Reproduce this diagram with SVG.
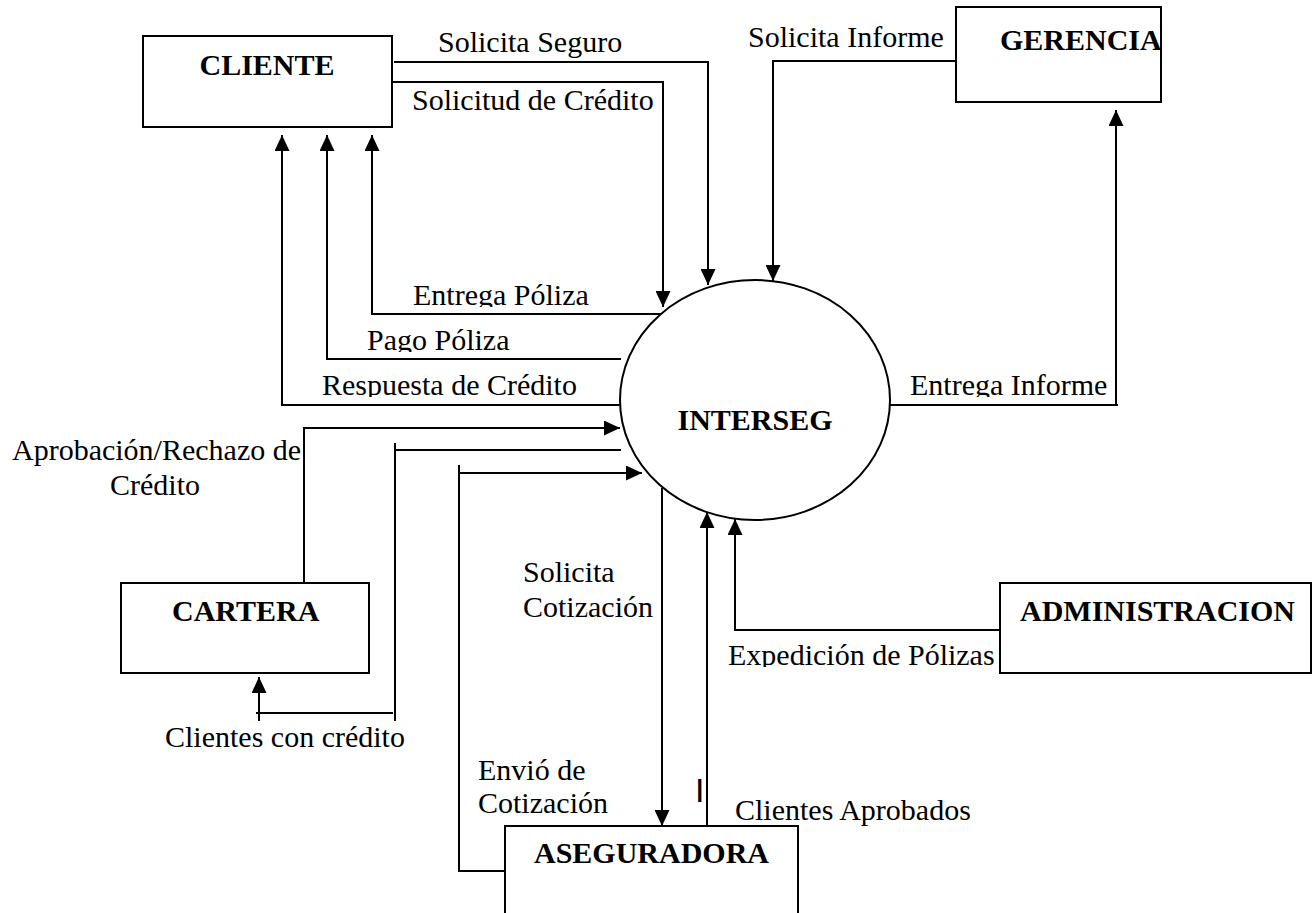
<svg xmlns="http://www.w3.org/2000/svg" width="1313" height="913" viewBox="0 0 1313 913">
<style>
.box{fill:#fff;stroke:#000;stroke-width:2}
.ln{fill:none;stroke:#000;stroke-width:2}
.arr{marker-end:url(#ah)}
.t{font-family:"Liberation Serif","Times New Roman",serif;font-size:30px;fill:#000}
.b{font-family:"Liberation Serif","Times New Roman",serif;font-size:30px;font-weight:bold;fill:#000}
</style>
<defs>
<marker id="ah" markerUnits="userSpaceOnUse" markerWidth="16" markerHeight="15" refX="16" refY="7.5" orient="auto">
<path d="M0,0 L16,7.5 L0,15 z" fill="#000"/>
</marker>
<clipPath id="c305"><rect x="0" y="0" width="1313" height="307"/></clipPath>
<clipPath id="c350"><rect x="0" y="0" width="1313" height="352"/></clipPath>
<clipPath id="c395"><rect x="0" y="0" width="1313" height="397"/></clipPath>
<clipPath id="c665"><rect x="0" y="0" width="1313" height="667"/></clipPath>
</defs>
<rect width="1313" height="913" fill="#fff"/>

<g id="connectors">
<path class="ln arr" d="M394,62 H708 V285"/>
<path class="ln arr" d="M392,82 H663 V307"/>
<path class="ln arr" d="M959,61 H773 V281"/>
<path class="ln arr" d="M666,314 H372 V135"/>
<path class="ln arr" d="M621,359 H327 V135"/>
<path class="ln arr" d="M620,405 H282 V135"/>
<path class="ln" d="M890,405 H1118"/>
<path class="ln arr" d="M1116,405 V110"/>
<path class="ln arr" d="M304,583 V428 H620"/>
<path class="ln" d="M621,450 H395"/>
<path class="ln" d="M395,443 V721"/>
<path class="ln" d="M393,713 H256"/>
<path class="ln arr" d="M259,721 V677"/>
<path class="ln arr" d="M505,871 H459 V473 H642"/>
<path class="ln" d="M459,465 V473"/>
<path class="ln arr" d="M662,488 V826"/>
<path class="ln arr" d="M707,826 V512"/>
<path class="ln arr" d="M1000,630 H735 V519"/>
</g>

<g id="CLIENTE">
<rect class="box" x="143" y="36" width="249" height="91"/>
<text class="b" x="267" y="75" text-anchor="middle">CLIENTE</text>
</g>
<g id="GERENCIA">
<rect class="box" x="956" y="7" width="205" height="95"/>
<text class="b" x="1000" y="50">GERENCIA</text>
</g>
<g id="INTERSEG">
<ellipse class="box" cx="755" cy="400" rx="135" ry="120"/>
<text class="b" x="755" y="430" text-anchor="middle">INTERSEG</text>
</g>
<g id="CARTERA">
<rect class="box" x="121" y="583" width="248" height="90"/>
<text class="b" x="172" y="621">CARTERA</text>
</g>
<g id="ADMINISTRACION">
<rect class="box" x="1000" y="583" width="311" height="90"/>
<text class="b" x="1020" y="621">ADMINISTRACION</text>
</g>
<g id="ASEGURADORA">
<rect class="box" x="505" y="826" width="293" height="100"/>
<text class="b" x="534" y="863">ASEGURADORA</text>
</g>

<g id="labels">
<text class="t" x="438" y="52">Solicita Seguro</text>
<text class="t" x="412" y="110">Solicitud de Crédito</text>
<text class="t" x="748" y="47">Solicita Informe</text>
<text class="t" x="413" y="305" clip-path="url(#c305)">Entrega Póliza</text>
<text class="t" x="367" y="350" clip-path="url(#c350)">Pago Póliza</text>
<text class="t" x="322" y="395" clip-path="url(#c395)">Respuesta de Crédito</text>
<text class="t" x="910" y="395" clip-path="url(#c395)">Entrega Informe</text>
<text class="t" x="12" y="460">Aprobación/Rechazo de</text>
<text class="t" x="110" y="495">Crédito</text>
<text class="t" x="165" y="747">Clientes con crédito</text>
<text class="t" x="523" y="582">Solicita</text>
<text class="t" x="523" y="617">Cotización</text>
<text class="t" x="728" y="665" clip-path="url(#c665)">Expedición de Pólizas</text>
<text class="t" x="478" y="780">Envió de</text>
<text class="t" x="478" y="813">Cotización</text>
<text class="t" x="735" y="820">Clientes Aprobados</text>
<text x="695" y="802" style="font-family:'Liberation Sans',Arial,sans-serif;font-size:34px;fill:#000">I</text>
</g>
</svg>
